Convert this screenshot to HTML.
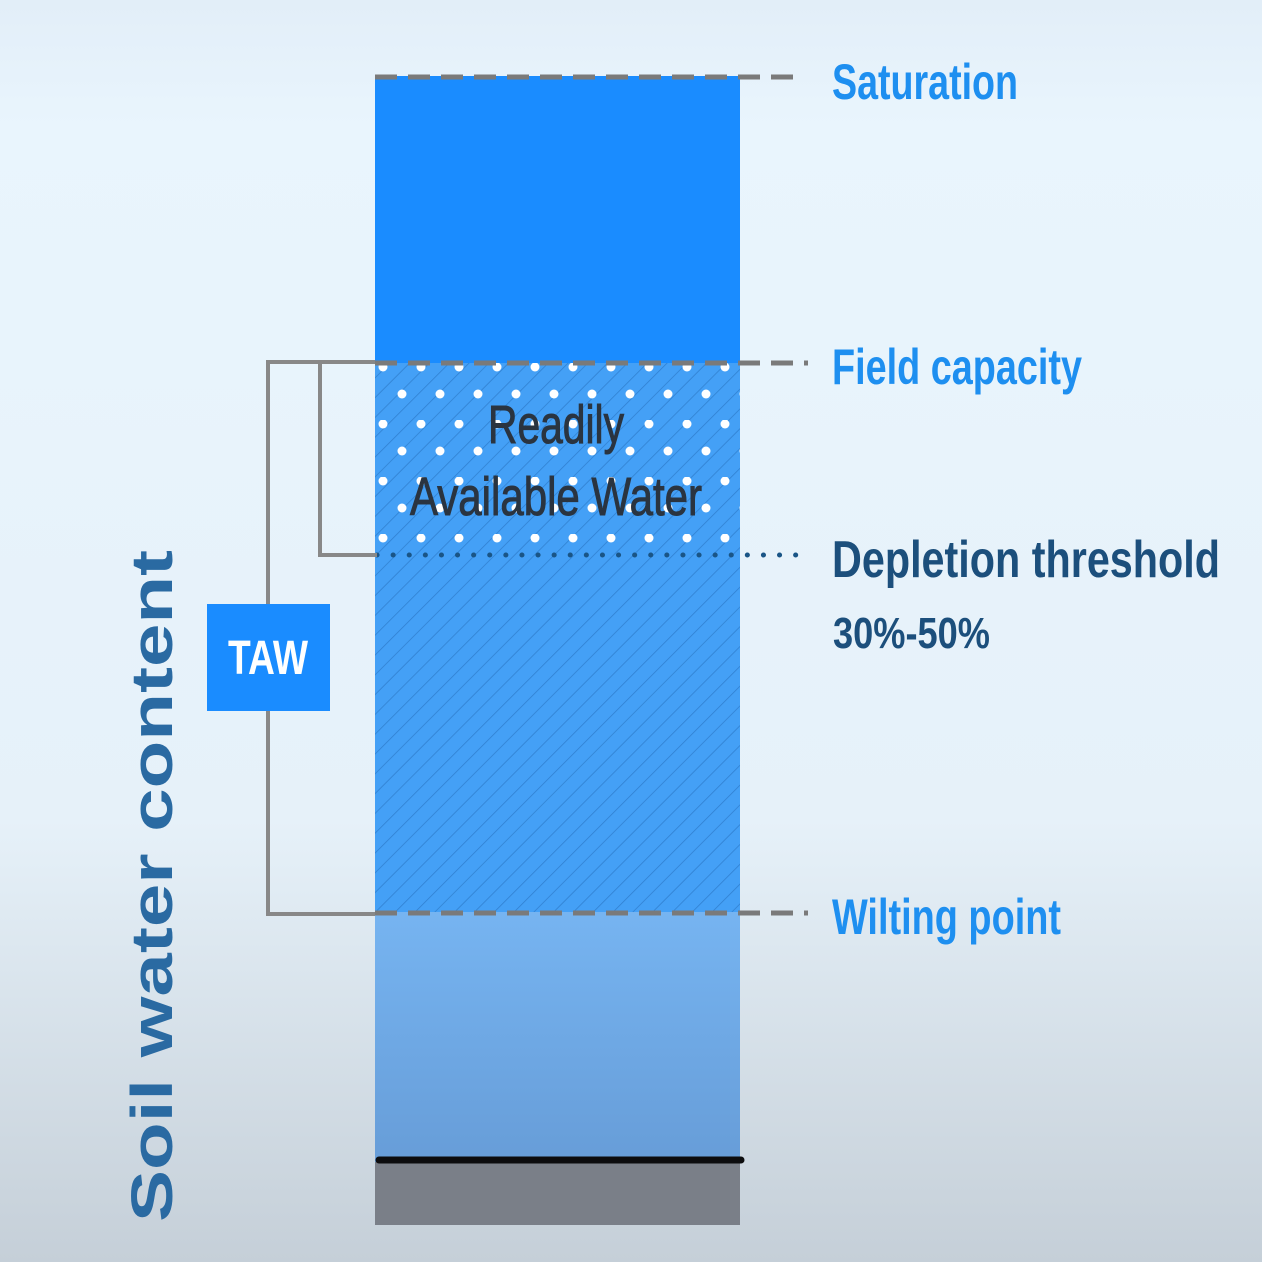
<!DOCTYPE html>
<html><head><meta charset="utf-8"><style>
html,body{margin:0;padding:0;width:1262px;height:1262px;overflow:hidden}
</style></head><body>
<svg width="1262" height="1262" viewBox="0 0 1262 1262" xmlns="http://www.w3.org/2000/svg">
<defs>
<linearGradient id="bg" x1="0" y1="0" x2="0" y2="1">
<stop offset="0" stop-color="#e2eef8"/>
<stop offset="0.1" stop-color="#e9f5fd"/>
<stop offset="0.65" stop-color="#e6f1f9"/>
<stop offset="1" stop-color="#c5cfd8"/>
</linearGradient>
<linearGradient id="low" x1="0" y1="0" x2="0" y2="1">
<stop offset="0" stop-color="#76b4f1"/>
<stop offset="1" stop-color="#679dd8"/>
</linearGradient>
<pattern id="hatch" width="14" height="14" patternUnits="userSpaceOnUse" patternTransform="rotate(45)">
<rect width="14" height="14" fill="#44a0f6"/>
<line x1="0" y1="0" x2="0" y2="14" stroke="#2f7fcf" stroke-width="1.5"/>
</pattern>
<pattern id="dots" x="383" y="363" width="38" height="57" patternUnits="userSpaceOnUse">
<circle cx="0" cy="4" r="4.5" fill="#fff"/>
<circle cx="38" cy="4" r="4.5" fill="#fff"/>
<circle cx="19" cy="31" r="4.5" fill="#fff"/>
</pattern>
</defs>
<rect width="1262" height="1262" fill="url(#bg)"/>
<rect x="375" y="76" width="365" height="287" fill="#1a8cff"/>
<rect x="375" y="363" width="365" height="549" fill="url(#hatch)"/>
<rect x="375" y="363" width="365" height="182" fill="url(#dots)"/>
<rect x="375" y="912" width="365" height="250" fill="url(#low)"/>
<rect x="375" y="1162" width="365" height="63" fill="#7a7f88"/>
<line x1="379" y1="1160" x2="741" y2="1160" stroke="#0c0c0e" stroke-width="7" stroke-linecap="round"/>
<g stroke="#7a7a7a" stroke-width="5" stroke-dasharray="22 11" fill="none">
<line x1="375" y1="77" x2="802" y2="77"/>
<line x1="375" y1="363" x2="808" y2="363"/>
<line x1="375" y1="913" x2="808" y2="913"/>
</g>
<line x1="377" y1="555" x2="808" y2="555" stroke="#1a5586" stroke-width="5" stroke-dasharray="0.1 16" stroke-linecap="round"/>
<g stroke="#888" stroke-width="4" fill="none">
<polyline points="375,362 268,362 268,914 375,914"/>
<polyline points="375,362 320,362 320,555 377,555"/>
</g>
<rect x="207" y="604" width="123" height="107" fill="#1a8cff"/>
<g font-family="'Liberation Sans Narrow','Liberation Sans',sans-serif" font-weight="bold">
<text x="268" y="674" font-size="48" fill="#fff" text-anchor="middle" textLength="80" lengthAdjust="spacingAndGlyphs">TAW</text>
<text x="832" y="99" font-size="50" fill="#1e8ff0" textLength="186" lengthAdjust="spacingAndGlyphs">Saturation</text>
<text x="832" y="384" font-size="50" fill="#1e8ff0" textLength="250" lengthAdjust="spacingAndGlyphs">Field capacity</text>
<text x="832" y="577" font-size="52" fill="#1c4f7c" textLength="388" lengthAdjust="spacingAndGlyphs">Depletion threshold</text>
<text x="833" y="648" font-size="44" fill="#1c4f7c" textLength="157" lengthAdjust="spacingAndGlyphs">30%-50%</text>
<text x="832" y="934" font-size="50" fill="#1e8ff0" textLength="229" lengthAdjust="spacingAndGlyphs">Wilting point</text>
<text x="556" y="443" font-size="54" fill="#2a3440" font-weight="normal" stroke="#2a3440" stroke-width="1" text-anchor="middle" textLength="136" lengthAdjust="spacingAndGlyphs">Readily</text>
<text x="556" y="515" font-size="54" fill="#2a3440" font-weight="normal" stroke="#2a3440" stroke-width="1" text-anchor="middle" textLength="292" lengthAdjust="spacingAndGlyphs">Available Water</text>
</g>
<text transform="translate(172,1222) rotate(-90)" x="0" y="0" font-family="'Liberation Sans',sans-serif" font-weight="bold" font-size="58" fill="#2a6aa2" textLength="672" lengthAdjust="spacingAndGlyphs">Soil water content</text>
</svg>
</body></html>
